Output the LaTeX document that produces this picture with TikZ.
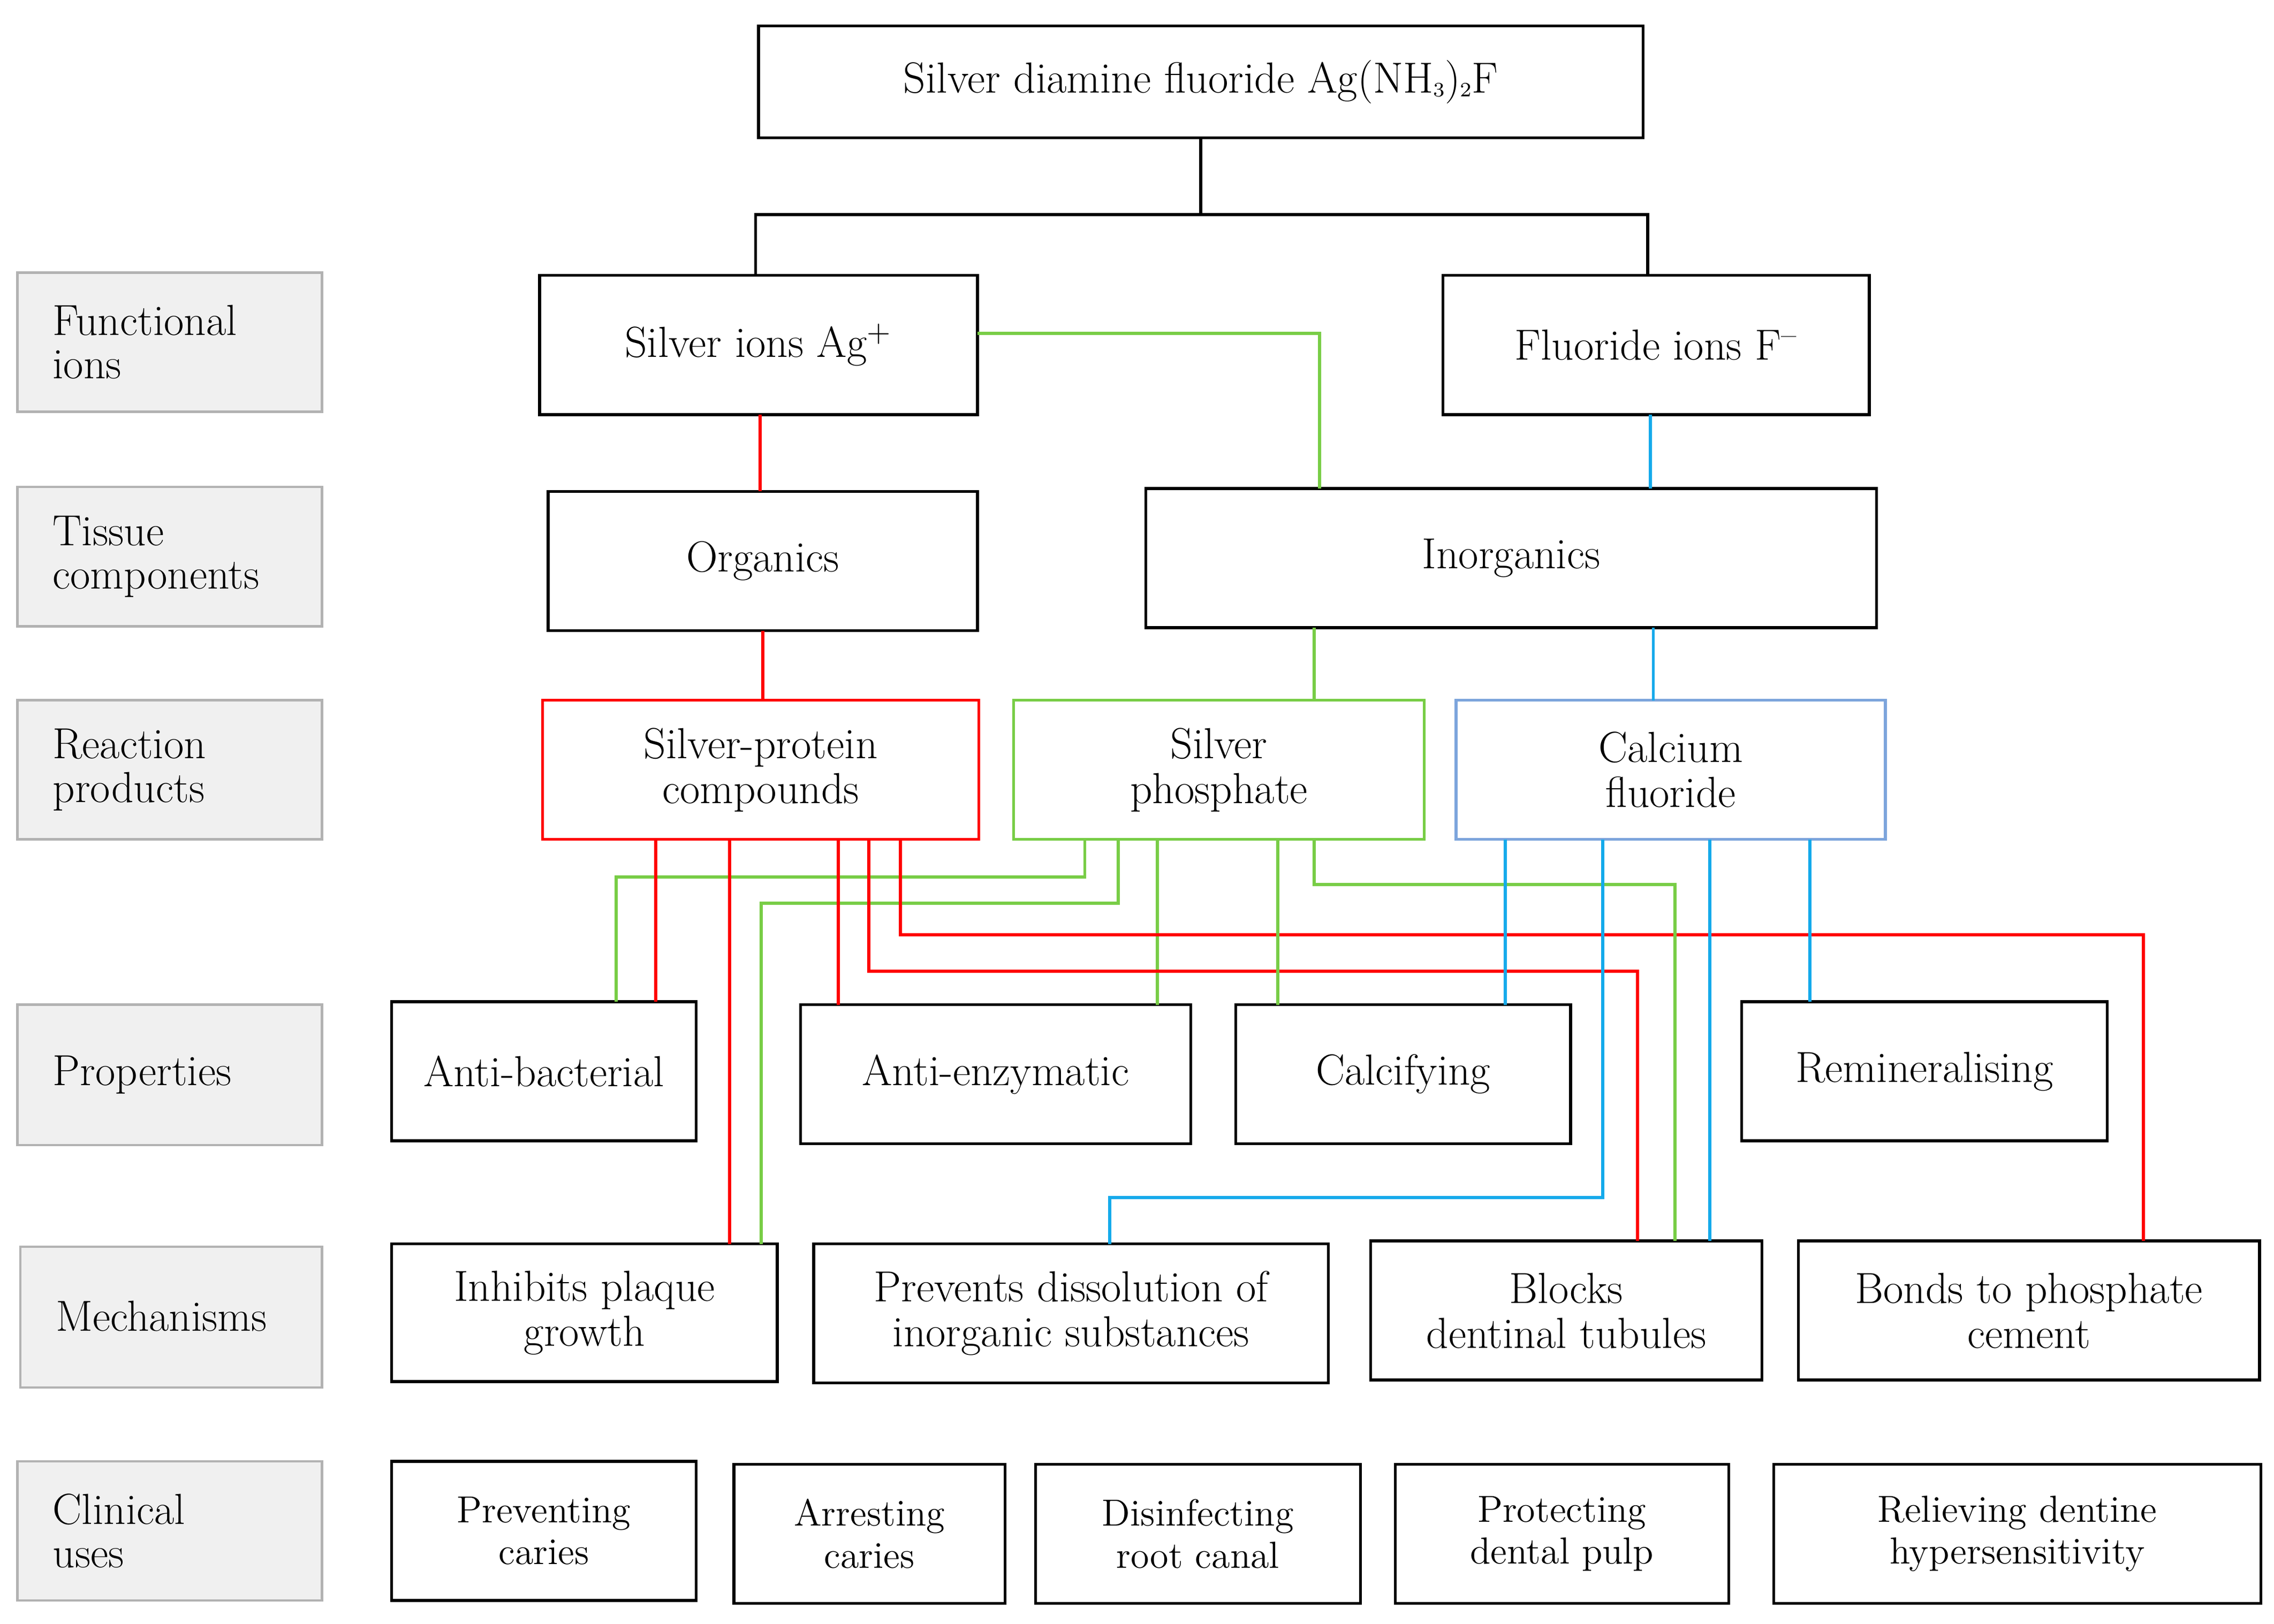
\documentclass[tikz,border=0pt]{standalone}
\begin{document}
\begin{tikzpicture}[x=0.5pt,y=-0.5pt,
 box/.style={draw=black,line width=1pt,inner sep=0pt,align=center,font=\fontsize{15}{15.5}\selectfont},
 sbox/.style={box,font=\fontsize{13}{14.5}\selectfont},
 lab/.style={draw=gray!60,fill=gray!12,line width=0.8pt},
 R/.style={draw=red,line width=1.1pt},
 G/.style={draw=lgreen,line width=1.1pt},
 B/.style={draw=lblue,line width=1.1pt}]
\definecolor{lgreen}{RGB}{120,205,70}
\definecolor{lblue}{RGB}{20,170,235}
\definecolor{bblue}{RGB}{125,165,220}
\useasboundingbox (0,0) rectangle (1568,1120);
\newcommand\bx[7][box]{\node[#1,minimum width={(#5-#3)*0.5pt},minimum height={(#6-#4)*0.5pt}] (#2) at ({(#3+#5)/2},{(#4+#6)/2}) {#7};}
\newcommand\lb[4]{\draw[lab] (12,#2) rectangle (222,#3); \node[anchor=west,align=left,font=\fontsize{15}{15}\selectfont,inner sep=0pt] (#1) at (36,{(#2+#3)/2}) {#4};}
\lb{l1}{188}{284}{Functional\\ions}
\lb{l2}{336}{432}{Tissue\\components}
\lb{l3}{483}{579}{Reaction\\products}
\lb{l4}{693}{790}{Properties}
\draw[lab] (14,860) rectangle (222,957); \node[anchor=west,font=\fontsize{15}{15}\selectfont,inner sep=0pt] (l5) at (38,908) {Mechanisms};
\lb{l6}{1008}{1104}{Clinical\\uses}
\bx{top}{523}{18}{1133}{95}{Silver diamine fluoride Ag(NH\raisebox{-0.2ex}{\scriptsize 3})\raisebox{-0.2ex}{\scriptsize 2}F}
\bx{ag}{372}{190}{674}{286}{Silver ions Ag\textsuperscript{+}}
\bx{f}{995}{190}{1289}{286}{Fluoride ions F\textsuperscript{--}}
\bx{org}{378}{339}{674}{435}{Organics}
\bx{inorg}{790}{337}{1294}{433}{Inorganics}
\bx[box,draw=red]{sp}{374}{483}{675}{579}{Silver-protein\\compounds}
\bx[box,draw=lgreen]{sph}{699}{483}{982}{579}{Silver\\phosphate}
\bx[box,draw=bblue]{caf}{1004}{483}{1300}{579}{Calcium\\fluoride}
\bx{ab}{270}{691}{480}{787}{Anti-bacterial}
\bx{ae}{552}{693}{821}{789}{Anti-enzymatic}
\bx{cal}{852}{693}{1083}{789}{Calcifying}
\bx{rem}{1201}{691}{1453}{787}{Remineralising}
\bx{inh}{270}{858}{536}{953}{Inhibits plaque\\growth}
\bx{prev}{561}{858}{916}{954}{Prevents dissolution of\\inorganic substances}
\bx{blk}{945}{856}{1215}{952}{Blocks\\dentinal tubules}
\bx{bnd}{1240}{856}{1558}{952}{Bonds to phosphate\\cement}
\bx[sbox]{c1}{270}{1008}{480}{1104}{Preventing\\caries}
\bx[sbox]{c2}{506}{1010}{693}{1106}{Arresting\\caries}
\bx[sbox]{c3}{714}{1010}{938}{1106}{Disinfecting\\root canal}
\bx[sbox]{c4}{962}{1010}{1192}{1106}{Protecting\\dental pulp}
\bx[sbox]{c5}{1223}{1010}{1559}{1106}{Relieving dentine\\hypersensitivity}
% top tree
\draw[line width=1.1pt] (top.south) -- (828,148);
\draw[line width=1.1pt] (521,190) -- (521,148) -- (1136,148) -- (1136,190);
\draw[G] (674,230) -- (910,230) -- (910,337);
\draw[R] (524,286) -- (524,339);
\draw[B] (1138,286) -- (1138,337);
\draw[R] (526,435) -- (526,483);
\draw[G] (906,433) -- (906,483);
\draw[B] (1140,433) -- (1140,483);
% lower connectors
\draw[G] (748,579) -- (748,605) -- (425,605) -- (425,691);
\draw[R] (452,579) -- (452,691);
\draw[G] (771,579) -- (771,623) -- (525,623) -- (525,858);
\draw[R] (503,579) -- (503,858);
\draw[R] (578,579) -- (578,693);
\draw[G] (798,579) -- (798,693);
\draw[R] (599,579) -- (599,670) -- (1129,670) -- (1129,856);
\draw[R] (621,579) -- (621,645) -- (1478,645) -- (1478,856);
\draw[G] (881,579) -- (881,693);
\draw[G] (906,579) -- (906,610) -- (1155,610) -- (1155,856);
\draw[B] (1038,579) -- (1038,693);
\draw[B] (1105,579) -- (1105,826) -- (765,826) -- (765,858);
\draw[B] (1179,579) -- (1179,856);
\draw[B] (1248,579) -- (1248,691);
\end{tikzpicture}
\end{document}
